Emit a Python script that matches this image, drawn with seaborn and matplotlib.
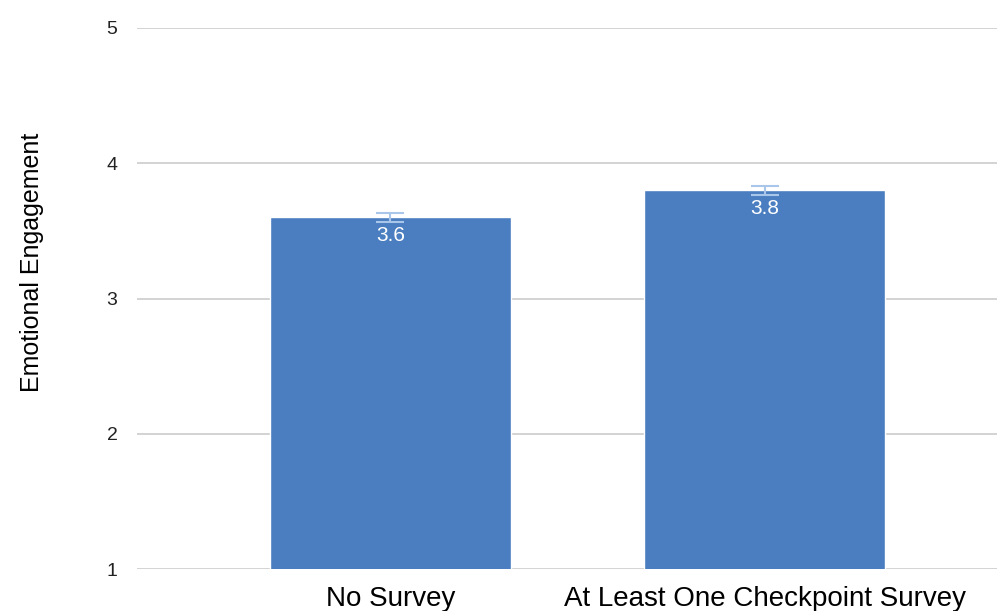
import matplotlib
matplotlib.use('Agg')
import matplotlib.pyplot as plt
import seaborn as sns
import pandas as pd

# data
groups = ['No Survey', 'At Least One Checkpoint Survey']
means = [3.6, 3.8]
errs = [0.035, 0.035]
yticks = [1, 2, 3, 4, 5]

sns.set_theme(style='white')
plt.rcParams['font.family'] = ['Liberation Sans', 'DejaVu Sans']

df = pd.DataFrame({'group': groups, 'mean': means})

fig = plt.figure(figsize=(9.97, 6.11), dpi=100)
ax = fig.add_axes([0.1374, 0.0687, 0.8626, 0.8855])

sns.barplot(data=df, x='group', y='mean', color='#4a7ec0', saturation=1,
            width=0.644, errorbar=None, ax=ax, zorder=3)
ax.errorbar(range(len(groups)), means, yerr=errs, fmt='none',
            ecolor='#a9c5ea', elinewidth=1.5, capsize=10, capthick=1.5, zorder=4)

# value labels inside the bar tops
for i, v in enumerate(means):
    ax.text(i, v - 0.135, f'{v:.1f}', ha='center', va='center',
            color='white', fontsize=15, zorder=5)

ax.set_ylim(1, 5)
ax.set_xlim(-0.677, 1.62)
ax.set_yticks(yticks)
ax.set_yticklabels([str(t) for t in yticks], fontsize=14, color='#222222')
ax.yaxis.grid(True, color='#cccccc', linewidth=1.2, zorder=0)
ax.set_axisbelow(True)
for s in ax.spines.values():
    s.set_visible(False)
ax.tick_params(axis='y', length=0, pad=14)
ax.tick_params(axis='x', length=0, pad=12, labelsize=20, labelcolor='black')
ax.set_xlabel('')
ax.set_ylabel('Emotional Engagement', fontsize=18, color='black')
ax.yaxis.set_label_coords(-0.108, 0.566)

fig.savefig('out.png', dpi=100)
